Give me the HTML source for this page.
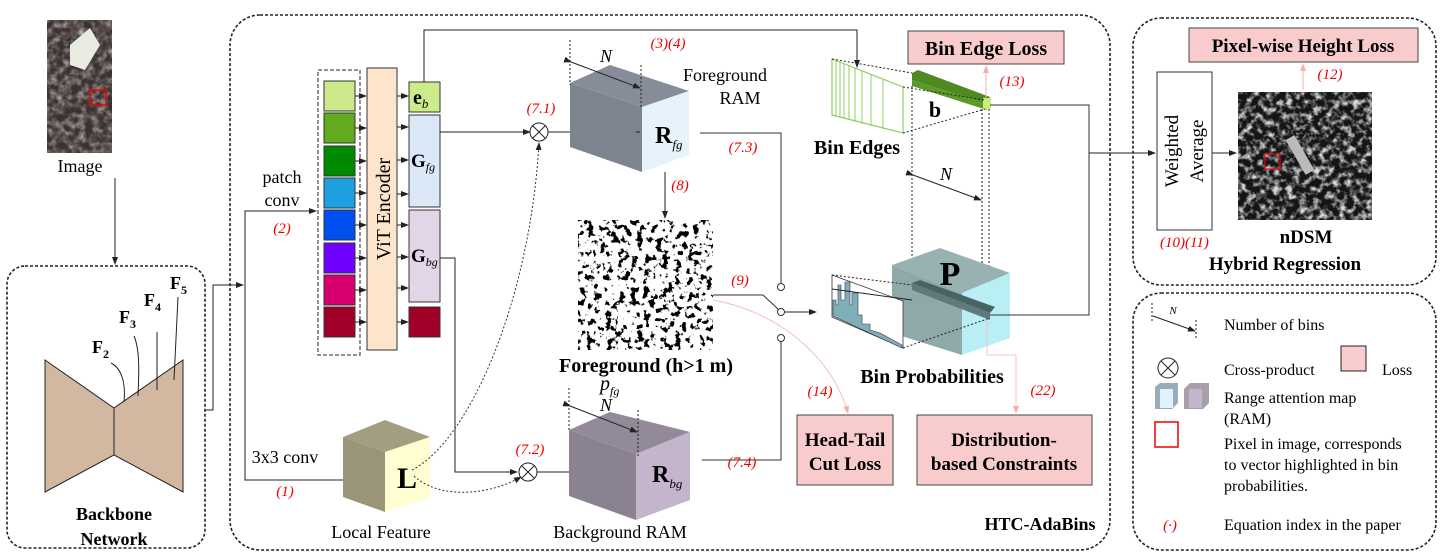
<!DOCTYPE html>
<html><head><meta charset="utf-8"><style>
html,body{margin:0;padding:0;background:#fff;}
svg{display:block;}
text{font-family:"Liberation Serif",serif;}
.r{fill:#e00;font-style:italic;font-size:15px;}
.b{font-weight:bold;}
</style></head><body>
<svg width="1450" height="556" viewBox="0 0 1450 556" xmlns="http://www.w3.org/2000/svg">
<defs>
<marker id="a" markerWidth="8" markerHeight="8" refX="7" refY="4" orient="auto" markerUnits="userSpaceOnUse"><path d="M0,1 L8,4 L0,7 z" fill="#222"/></marker>
<marker id="ap" markerWidth="8" markerHeight="8" refX="7" refY="4" orient="auto" markerUnits="userSpaceOnUse"><path d="M0,1 L8,4 L0,7 z" fill="#f4b0b0"/></marker>
<filter id="mask" x="0" y="0" width="100%" height="100%"><feTurbulence type="fractalNoise" baseFrequency="0.16" numOctaves="3" seed="3"/><feColorMatrix type="matrix" values="0 0 0 0 0  0 0 0 0 0  0 0 0 0 0  -14 0 0 0 6.2"/></filter>
<filter id="dsm" x="0" y="0" width="100%" height="100%"><feTurbulence type="fractalNoise" baseFrequency="0.15" numOctaves="3" seed="7"/><feColorMatrix type="matrix" values="0 0 0 0 0.7  0 0 0 0 0.7  0 0 0 0 0.7  3 0 0 0 -1.3"/></filter>
<filter id="img" x="0" y="0" width="100%" height="100%"><feTurbulence type="fractalNoise" baseFrequency="0.14" numOctaves="3" seed="11"/><feColorMatrix type="matrix" values="0.6 0.2 0 0 0  0.5 0.2 0 0 0  0.5 0.2 0 0 0  1.5 0 0 0 -0.5"/></filter>
</defs>

<!-- panels -->
<rect x="7" y="266" width="198" height="282" rx="18" fill="none" stroke="#222" stroke-width="1.6" stroke-dasharray="3,2"/>
<rect x="230" y="15" width="880" height="535" rx="30" fill="none" stroke="#222" stroke-width="1.6" stroke-dasharray="3,2"/>
<rect x="1133" y="18" width="303" height="267" rx="28" fill="none" stroke="#222" stroke-width="1.6" stroke-dasharray="3,2"/>
<rect x="1133" y="293" width="303" height="257" rx="28" fill="none" stroke="#222" stroke-width="1.6" stroke-dasharray="3,2"/>

<!-- input image -->
<rect x="47" y="20" width="65" height="133" fill="#3a3230"/>
<rect x="47" y="20" width="65" height="133" filter="url(#img)"/>
<polygon points="70,45 90,28 100,45 85,70 70,65" fill="#e8ece0"/>
<rect x="90" y="90" width="16" height="15" fill="none" stroke="#e00" stroke-width="1.5"/>
<text x="80" y="172" font-size="18" text-anchor="middle">Image</text>
<line x1="115" y1="178" x2="115" y2="264" stroke="#222" marker-end="url(#a)"/>

<!-- backbone -->
<polygon points="45,360 114,408 114,455 45,492" fill="#d2b8a0" stroke="#222"/>
<polygon points="183,360 114,408 114,455 183,492" fill="#d2b8a0" stroke="#222"/>
<path d="M124,402 C126,382 121,368 111,363 M138,396 C139,372 140,350 134,336 M157,390 L157,332 M174,380 L178,297" fill="none" stroke="#222"/>
<text x="92" y="353" font-size="18" class="b">F<tspan font-size="12" dy="5">2</tspan></text>
<text x="119" y="323" font-size="18" class="b">F<tspan font-size="12" dy="5">3</tspan></text>
<text x="144" y="306" font-size="18" class="b">F<tspan font-size="12" dy="5">4</tspan></text>
<text x="170" y="289" font-size="18" class="b">F<tspan font-size="12" dy="5">5</tspan></text>
<text x="114" y="520" font-size="18" class="b" text-anchor="middle">Backbone</text>
<text x="114" y="545" font-size="18" class="b" text-anchor="middle">Network</text>
<polyline points="205,410 213,410 213,285 243,285" fill="none" stroke="#222" marker-end="url(#a)"/>

<!-- main flow lines -->
<polyline points="245,285 245,211 316,211" fill="none" stroke="#222" marker-end="url(#a)"/>
<polyline points="245,285 245,480 381,480" fill="none" stroke="#222" marker-end="url(#a)"/>
<text x="282" y="183" font-size="18" text-anchor="middle">patch</text>
<text x="282" y="206" font-size="18" text-anchor="middle">conv</text>
<text x="282" y="233" class="r" text-anchor="middle">(2)</text>
<text x="285" y="463" font-size="18" text-anchor="middle">3x3 conv</text>
<text x="285" y="496" class="r" text-anchor="middle">(1)</text>

<!-- patches -->
<rect x="318" y="70" width="42" height="285" fill="none" stroke="#555" stroke-dasharray="4,2" stroke-width="1.3"/>
<g stroke="#333">
<rect x="324" y="81" width="31" height="30" fill="#cce98a"/>
<rect x="324" y="113" width="31" height="30" fill="#62ab1c"/>
<rect x="324" y="146" width="31" height="30" fill="#008a00"/>
<rect x="324" y="178" width="31" height="30" fill="#1ca0e0"/>
<rect x="324" y="210" width="31" height="30" fill="#0050f0"/>
<rect x="324" y="243" width="31" height="30" fill="#7000ff"/>
<rect x="324" y="275" width="31" height="30" fill="#d80070"/>
<rect x="324" y="307" width="31" height="30" fill="#a00028"/>
</g>
<g stroke="#222" marker-end="url(#a)">
<line x1="355" y1="96" x2="366" y2="96"/><line x1="355" y1="128" x2="366" y2="128"/><line x1="355" y1="161" x2="366" y2="161"/><line x1="355" y1="193" x2="366" y2="193"/><line x1="355" y1="225" x2="366" y2="225"/><line x1="355" y1="258" x2="366" y2="258"/><line x1="355" y1="290" x2="366" y2="290"/><line x1="355" y1="322" x2="366" y2="322"/>
<line x1="397" y1="96" x2="408" y2="96"/><line x1="397" y1="127" x2="408" y2="127"/><line x1="397" y1="160" x2="408" y2="160"/><line x1="397" y1="194" x2="408" y2="194"/><line x1="397" y1="225" x2="408" y2="225"/><line x1="397" y1="257" x2="408" y2="257"/><line x1="397" y1="288" x2="408" y2="288"/><line x1="397" y1="322" x2="408" y2="322"/>
</g>
<rect x="367" y="68" width="30" height="282" fill="#fde5cc" stroke="#333"/>
<text transform="translate(390,209) rotate(-90)" font-size="20" text-anchor="middle">ViT Encoder</text>
<g stroke="#333">
<rect x="409" y="82" width="31" height="30" fill="#ccec8c"/>
<rect x="409" y="115" width="31" height="92" fill="#dae8f8"/>
<rect x="409" y="210" width="31" height="92" fill="#e1d5e7"/>
<rect x="409" y="307" width="31" height="30" fill="#a00028"/>
</g>
<text x="413" y="104" font-size="20" class="b">e<tspan font-size="13" font-style="italic" font-weight="normal" dy="4">b</tspan></text>
<text x="411" y="167" font-size="19" class="b">G<tspan font-size="12" font-style="italic" font-weight="normal" dy="4">fg</tspan></text>
<text x="411" y="262" font-size="19" class="b">G<tspan font-size="12" font-style="italic" font-weight="normal" dy="4">bg</tspan></text>

<!-- top line e_b to bin edges -->
<polyline points="424,82 424,30 857,30 857,67" fill="none" stroke="#222" marker-end="url(#a)"/>
<text x="668" y="48" class="r" text-anchor="middle">(3)(4)</text>

<!-- G_fg to cross -->
<line x1="440" y1="132" x2="530" y2="132" stroke="#222" marker-end="url(#a)"/>
<circle cx="539" cy="132" r="9" fill="#fff" stroke="#222"/>
<path d="M533,126 L545,138 M545,126 L533,138" stroke="#222"/>
<text x="541" y="113" class="r" text-anchor="middle">(7.1)</text>
<line x1="548" y1="132" x2="630" y2="132" stroke="#222" marker-end="url(#a)"/>

<!-- FG cube -->
<polygon points="570,83 642,107 642,172 570,147" fill="#7d838f"/>
<polygon points="570,83 610,65 689,91 642,107" fill="#878d98"/>
<polygon points="642,107 689,91 689,155 642,172" fill="#e6f3fb"/>
<line x1="636" y1="132" x2="640" y2="132" stroke="#222"/>
<g stroke="#222" stroke-dasharray="2,2"><line x1="570" y1="40" x2="570" y2="85"/><line x1="641" y1="65" x2="641" y2="108"/></g>
<line x1="571" y1="62" x2="640" y2="88" stroke="#222" marker-end="url(#a)" marker-start="url(#a)"/>
<text x="606" y="62" font-size="18" font-style="italic" text-anchor="middle">N</text>
<text x="655" y="143" font-size="24" class="b">R<tspan font-size="13" font-style="italic" font-weight="normal" dy="6">fg</tspan></text>
<text x="725" y="81" font-size="18" text-anchor="middle">Foreground</text>
<text x="740" y="104" font-size="18" text-anchor="middle">RAM</text>
<polyline points="700,133 781,133 781,283" fill="none" stroke="#333"/>
<text x="743" y="152" class="r" text-anchor="middle">(7.3)</text>
<line x1="665" y1="172" x2="665" y2="218" stroke="#222" marker-end="url(#a)"/>
<text x="680" y="190" class="r" text-anchor="middle">(8)</text>

<!-- mask image -->
<rect x="578" y="220" width="135" height="130" fill="#fff"/>
<rect x="578" y="220" width="135" height="130" filter="url(#mask)"/>
<text x="646" y="372" font-size="20" class="b" text-anchor="middle">Foreground (h&gt;1 m)</text>

<!-- switch -->
<text x="740" y="285" class="r" text-anchor="middle">(9)</text>
<polyline points="713,295 763,295 779,310" fill="none" stroke="#333"/>
<circle cx="781" cy="287" r="3.5" fill="#fff" stroke="#333"/>
<circle cx="781" cy="312" r="3.5" fill="#fff" stroke="#333"/>
<circle cx="781" cy="338" r="3.5" fill="#fff" stroke="#333"/>
<line x1="785" y1="312" x2="816" y2="312" stroke="#222" marker-end="url(#a)"/>
<polyline points="781,342 781,460 702,460" fill="none" stroke="#333"/>
<text x="742" y="467" class="r" text-anchor="middle">(7.4)</text>
<path d="M713,300 C770,310 830,350 848,413" fill="none" stroke="#f4c0c0" marker-end="url(#ap)"/>
<text x="820" y="396" class="r" text-anchor="middle">(14)</text>

<!-- Bin edges -->
<polygon points="832,59 903,87 903,133 832,115" fill="none" stroke="#8cd060" stroke-width="1.2"/>
<g stroke="#8cd060"><line x1="836" y1="60" x2="836" y2="116"/><line x1="840" y1="62" x2="840" y2="118"/><line x1="844" y1="63" x2="844" y2="119"/><line x1="849" y1="65" x2="849" y2="120"/><line x1="855" y1="68" x2="855" y2="122"/><line x1="862" y1="70" x2="862" y2="124"/><line x1="871" y1="74" x2="871" y2="126"/><line x1="883" y1="79" x2="883" y2="129"/></g>
<polygon points="912,73 918,70 990,97 987,104 912,80" fill="#4e8a20"/>
<polygon points="912,80 987,104 987,110 912,86" fill="#5a9a28"/>
<rect x="983" y="98" width="8" height="11" fill="#c8ee80"/>
<g stroke="#222" stroke-dasharray="2,2" fill="none"><line x1="832" y1="59" x2="912" y2="73"/><line x1="903" y1="133" x2="985" y2="109"/><line x1="903" y1="87" x2="985" y2="100"/><line x1="912" y1="86" x2="912" y2="290"/><line x1="982" y1="109" x2="982" y2="312"/><line x1="989" y1="109" x2="989" y2="312"/></g>
<text x="935" y="117" font-size="22" class="b" text-anchor="middle">b</text>
<text x="857" y="154" font-size="20" class="b" text-anchor="middle">Bin Edges</text>
<line x1="913" y1="175" x2="981" y2="200" stroke="#222" marker-start="url(#a)" marker-end="url(#a)"/>
<text x="946" y="180" font-size="18" font-style="italic" text-anchor="middle">N</text>

<rect x="908" y="31" width="156" height="33" fill="#f8cccc" stroke="#444"/>
<text x="986" y="55" font-size="20" class="b" text-anchor="middle">Bin Edge Loss</text>
<line x1="986" y1="100" x2="986" y2="66" stroke="#f4b0b0" marker-end="url(#ap)"/>
<text x="1012" y="86" class="r" text-anchor="middle">(13)</text>

<!-- P cube -->
<polygon points="892,265 962,293 962,355 892,333" fill="#8fa8a8"/>
<polygon points="892,265 940,248 1010,273 962,293" fill="#98b2b2"/>
<polygon points="962,293 1010,273 1010,338 962,355" fill="#b8eef4"/>
<polygon points="912,283 920,280 995,307 990,313" fill="#4a6264"/>
<polygon points="912,283 990,313 990,320 912,290" fill="#5e7a7c"/>
<text x="950" y="285" font-size="34" class="b" text-anchor="middle">P</text>
<polygon points="832,275 903,301 903,348 832,317" fill="#fff" stroke="#333" stroke-width="0.8"/>
<path d="M833,316 L833,300 L836,300 L836,305 L838,305 L838,285 L841,285 L841,300 L845,300 L845,282 L850,282 L850,305 L852,305 L852,293 L858,293 L858,315 L862,315 L862,324 L870,324 L870,330 L880,333 L902,345 L902,348 Z" fill="#7fb0b8" stroke="#335" stroke-width="0.6"/>
<g stroke="#222" stroke-dasharray="2,2" fill="none"><line x1="832" y1="275" x2="912" y2="285"/><line x1="903" y1="348" x2="990" y2="318"/></g>
<line x1="832" y1="289" x2="912" y2="300" stroke="#222"/>
<text x="932" y="383" font-size="20" class="b" text-anchor="middle">Bin Probabilities</text>
<polyline points="990,315 1089,315 1089,105 990,105" fill="none" stroke="#333"/>
<line x1="1089" y1="153" x2="1155" y2="153" stroke="#222" marker-end="url(#a)"/>
<polyline points="987,320 987,355 1016,355 1016,413" fill="none" stroke="#f4c0c0" marker-end="url(#ap)"/>
<text x="1043" y="395" class="r" text-anchor="middle">(22)</text>

<rect x="797" y="415" width="96" height="70" fill="#f8cccc" stroke="#444"/>
<text x="845" y="446" font-size="19" class="b" text-anchor="middle">Head-Tail</text>
<text x="845" y="470" font-size="19" class="b" text-anchor="middle">Cut Loss</text>
<rect x="917" y="415" width="175" height="70" fill="#f8cccc" stroke="#444"/>
<text x="1004" y="446" font-size="19" class="b" text-anchor="middle">Distribution-</text>
<text x="1004" y="470" font-size="19" class="b" text-anchor="middle">based Constraints</text>

<!-- L cube -->
<polygon points="343,437 385,452 385,512 343,497" fill="#9a9478"/>
<polygon points="343,437 385,420 430,437 385,452" fill="#a39d82"/>
<polygon points="385,452 430,437 430,498 385,512" fill="#fefed0"/>
<text x="407" y="488" font-size="30" class="b" text-anchor="middle">L</text>
<text x="381" y="538" font-size="18" text-anchor="middle">Local Feature</text>
<path d="M412,470 C470,440 530,300 539,143" fill="none" stroke="#333" stroke-dasharray="2,2" marker-end="url(#a)"/>
<path d="M414,476 C440,500 490,495 521,477" fill="none" stroke="#333" stroke-dasharray="2,2" marker-end="url(#a)"/>

<!-- BG branch -->
<polyline points="440,258 455,258 455,472 517,472" fill="none" stroke="#222" marker-end="url(#a)"/>
<circle cx="528" cy="472" r="9" fill="#fff" stroke="#222"/>
<path d="M522,466 L534,478 M534,466 L522,478" stroke="#222"/>
<text x="530" y="454" class="r" text-anchor="middle">(7.2)</text>
<line x1="537" y1="472" x2="634" y2="472" stroke="#222" marker-end="url(#a)"/>
<polygon points="569,430 636,454 636,520 569,496" fill="#8a8290"/>
<polygon points="569,430 610,412 690,432 636,454" fill="#928a98"/>
<polygon points="636,454 690,432 690,500 636,520" fill="#c4b4cc"/>
<g stroke="#222" stroke-dasharray="2,2"><line x1="569" y1="388" x2="569" y2="432"/><line x1="638" y1="410" x2="638" y2="456"/></g>
<line x1="570" y1="406" x2="637" y2="432" stroke="#222" marker-start="url(#a)" marker-end="url(#a)"/>
<text x="606" y="411" font-size="18" font-style="italic" text-anchor="middle">N</text>
<text x="600" y="390" font-size="20" font-style="italic">p<tspan font-size="12" dy="5">fg</tspan></text>
<text x="652" y="482" font-size="24" class="b">R<tspan font-size="13" font-style="italic" font-weight="normal" dy="6">bg</tspan></text>
<text x="620" y="538" font-size="18" text-anchor="middle">Background RAM</text>
<text x="1040" y="530" font-size="18" class="b" text-anchor="middle">HTC-AdaBins</text>

<!-- Hybrid regression -->
<rect x="1189" y="28" width="229" height="34" fill="#f8cccc" stroke="#444"/>
<text x="1303" y="52" font-size="19" class="b" text-anchor="middle">Pixel-wise Height Loss</text>
<line x1="1303" y1="90" x2="1303" y2="64" stroke="#f4b0b0" marker-end="url(#ap)"/>
<text x="1330" y="79" class="r" text-anchor="middle">(12)</text>
<rect x="1157" y="72" width="55" height="158" fill="#fff" stroke="#333"/>
<text transform="translate(1178,151) rotate(-90)" font-size="19" text-anchor="middle">Weighted</text>
<text transform="translate(1203,151) rotate(-90)" font-size="19" text-anchor="middle">Average</text>
<line x1="1212" y1="153" x2="1236" y2="153" stroke="#222" marker-end="url(#a)"/>
<rect x="1238" y="92" width="134" height="128" fill="#151515"/>
<rect x="1238" y="92" width="134" height="128" filter="url(#dsm)"/>
<rect x="1295" y="135" width="10" height="40" fill="#bbb" transform="rotate(-30 1300 155)"/>
<rect x="1265" y="154" width="15" height="15" fill="none" stroke="#e00" stroke-width="1.2"/>
<text x="1160" y="247" class="r">(10)(11)</text>
<text x="1306" y="243" font-size="19" class="b" text-anchor="middle">nDSM</text>
<text x="1285" y="270" font-size="19" class="b" text-anchor="middle">Hybrid Regression</text>

<!-- legend -->
<g stroke="#222" stroke-dasharray="2,2"><line x1="1152" y1="303" x2="1152" y2="322"/><line x1="1196" y1="320" x2="1196" y2="338"/></g>
<line x1="1153" y1="316" x2="1195" y2="331" stroke="#222" marker-end="url(#a)"/>
<text x="1173" y="314" font-size="11" font-style="italic" text-anchor="middle">N</text>
<text x="1224" y="330" font-size="16">Number of bins</text>
<circle cx="1168" cy="368" r="10" fill="#fff" stroke="#222"/>
<path d="M1161,361 L1175,375 M1175,361 L1161,375" stroke="#222"/>
<text x="1224" y="375" font-size="16">Cross-product</text>
<rect x="1341" y="346" width="25" height="25" fill="#f8cccc" stroke="#222"/>
<text x="1382" y="375" font-size="16">Loss</text>
<polygon points="1155,387 1160,383 1178,383 1178,403 1172,409 1155,409" fill="#9aacbc"/>
<rect x="1160" y="389" width="13" height="19" fill="#dff3fb"/>
<polygon points="1184,389 1190,383 1209,383 1209,403 1203,409 1184,409" fill="#a8a0a8"/>
<rect x="1189" y="389" width="13" height="19" fill="#c4b4cc"/>
<text x="1224" y="403" font-size="16">Range attention map</text>
<text x="1224" y="424" font-size="16">(RAM)</text>
<rect x="1155" y="422" width="23" height="25" fill="none" stroke="#e00" stroke-width="1.5"/>
<text x="1224" y="449" font-size="16">Pixel in image,  corresponds</text>
<text x="1224" y="470" font-size="16">to vector highlighted in bin</text>
<text x="1224" y="491" font-size="16">probabilities.</text>
<text x="1170" y="530" class="r" text-anchor="middle">(·)</text>
<text x="1224" y="530" font-size="16">Equation index in the paper</text>
</svg>
</body></html>
